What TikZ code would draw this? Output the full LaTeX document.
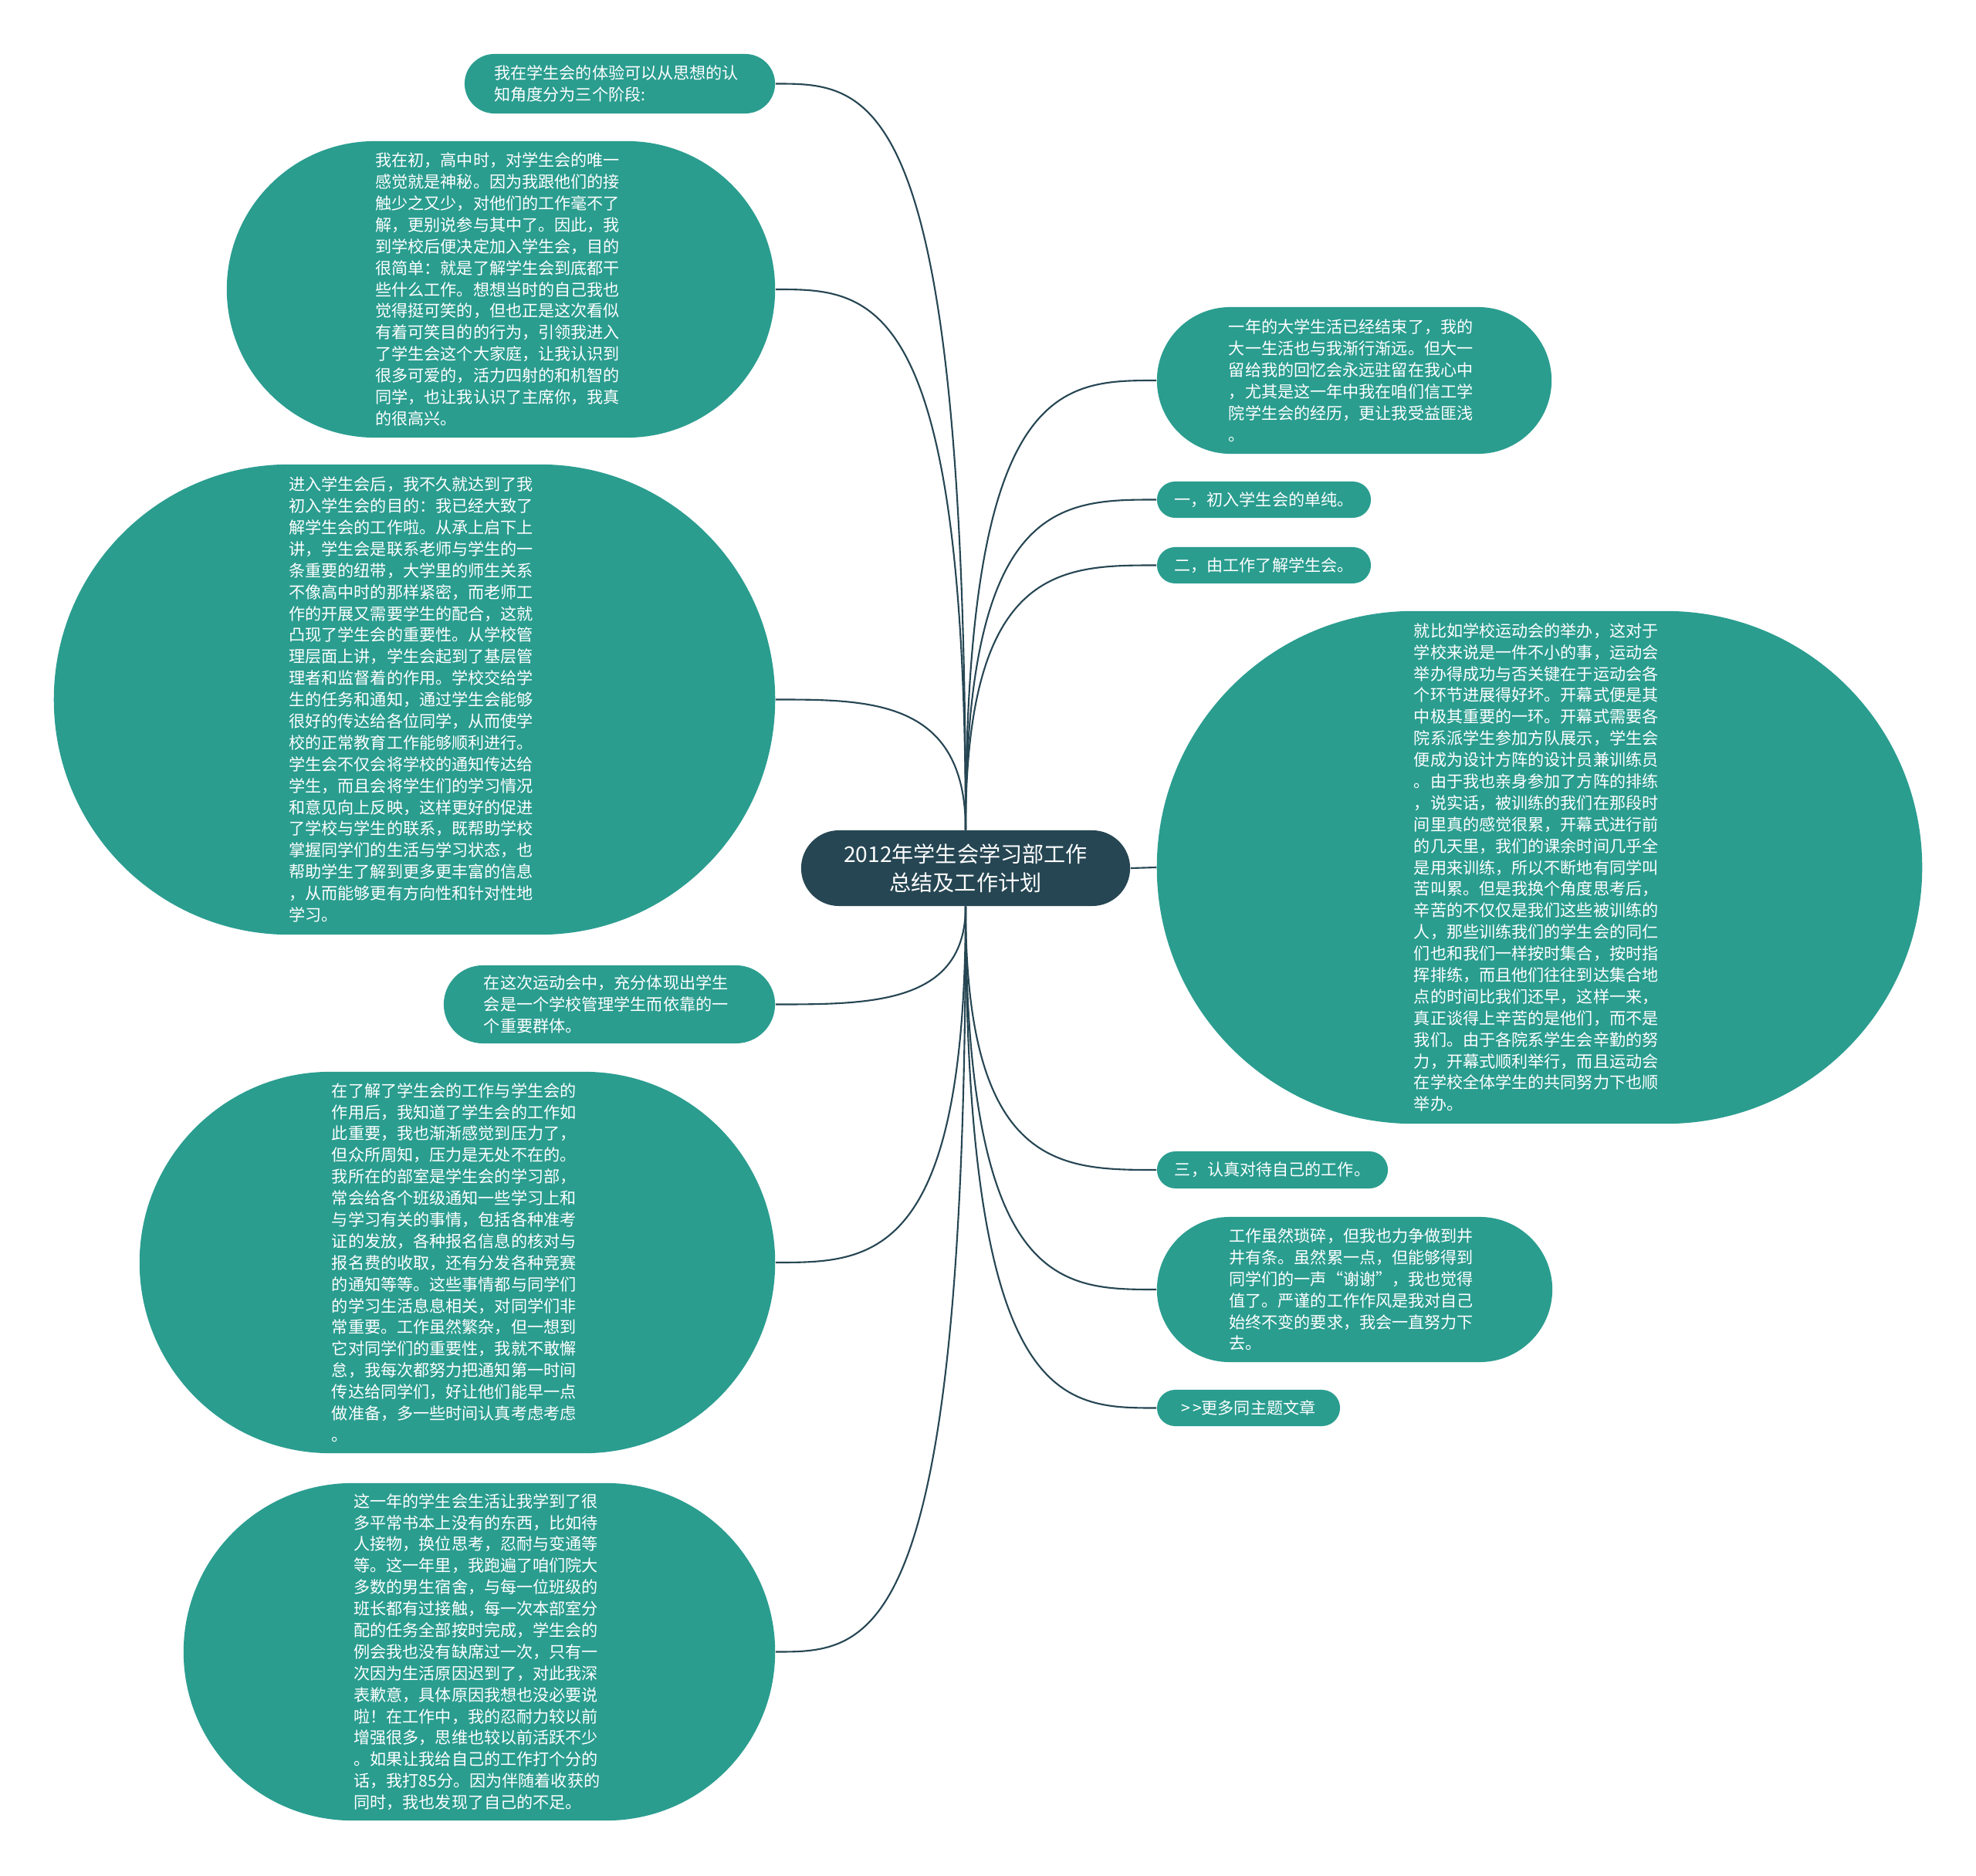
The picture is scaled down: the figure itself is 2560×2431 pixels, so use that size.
\documentclass[tikz,border=0pt]{standalone}
\usepackage{fontspec}
\setmainfont{Noto Sans CJK SC}
\usepackage{xcolor}
\usetikzlibrary{calc}
\definecolor{topicgreen}{HTML}{2A9D8F}
\definecolor{rootblue}{HTML}{264653}

\begin{document}
\begin{tikzpicture}[x=0.01cm,y=-0.01cm,
    leaf/.style={fill=topicgreen, text=white, inner sep=0pt, font=\fontsize{6pt}{7.93pt}\selectfont},
    para/.style={leaf, text width=3.25cm, align=left},
    pill/.style n args={3}{minimum width=#1, minimum height=#2, rounded corners=#3},
    link/.style={rootblue, line width=0.6pt}]
    % page frame
    \fill[white] (0,0) rectangle (2560,2431);
    \useasboundingbox (0,0) rectangle (2560,2431);
    % root in the middle
    \node[fill=rootblue, text=white, inner sep=0pt, align=center,
          font=\fontsize{8pt}{10.66pt}\selectfont,
          pill={4.26cm}{0.98cm}{0.49cm}] (root) at (1251,1125)
          {2012年学生会学习部工作\\总结及工作计划};
    % left side branches
    \node[para, pill={4.02cm}{0.77cm}{0.385cm}] (a) at (803,108.5)
    {我在学生会的体验可以从思想的认\\
     知角度分为三个阶段:};
    \node[para, pill={7.10cm}{3.84cm}{1.92cm}] (b) at (649,375)
    {我在初，高中时，对学生会的唯一\\
     感觉就是神秘。因为我跟他们的接\\
     触少之又少，对他们的工作毫不了\\
     解，更别说参与其中了。因此，我\\
     到学校后便决定加入学生会，目的\\
     很简单：就是了解学生会到底都干\\
     些什么工作。想想当时的自己我也\\
     觉得挺可笑的，但也正是这次看似\\
     有着可笑目的的行为，引领我进入\\
     了学生会这个大家庭，让我认识到\\
     很多可爱的，活力四射的和机智的\\
     同学，也让我认识了主席你，我真\\
     的很高兴。};
    \node[para, pill={9.34cm}{6.09cm}{3.045cm}] (c) at (537,906.5)
    {进入学生会后，我不久就达到了我\\
     初入学生会的目的：我已经大致了\\
     解学生会的工作啦。从承上启下上\\
     讲，学生会是联系老师与学生的一\\
     条重要的纽带，大学里的师生关系\\
     不像高中时的那样紧密，而老师工\\
     作的开展又需要学生的配合，这就\\
     凸现了学生会的重要性。从学校管\\
     理层面上讲，学生会起到了基层管\\
     理者和监督着的作用。学校交给学\\
     生的任务和通知，通过学生会能够\\
     很好的传达给各位同学，从而使学\\
     校的正常教育工作能够顺利进行。\\
     学生会不仅会将学校的通知传达给\\
     学生，而且会将学生们的学习情况\\
     和意见向上反映，这样更好的促进\\
     了学校与学生的联系，既帮助学校\\
     掌握同学们的生活与学习状态，也\\
     帮助学生了解到更多更丰富的信息\\
     ，从而能够更有方向性和针对性地\\
     学习。};
    \node[para, pill={4.29cm}{1.01cm}{0.505cm}] (d) at (789.5,1301.5)
    {在这次运动会中，充分体现出学生\\
     会是一个学校管理学生而依靠的一\\
     个重要群体。};
    \node[para, pill={8.23cm}{4.94cm}{2.47cm}] (e) at (592.5,1636)
    {在了解了学生会的工作与学生会的\\
     作用后，我知道了学生会的工作如\\
     此重要，我也渐渐感觉到压力了，\\
     但众所周知，压力是无处不在的。\\
     我所在的部室是学生会的学习部，\\
     常会给各个班级通知一些学习上和\\
     与学习有关的事情，包括各种准考\\
     证的发放，各种报名信息的核对与\\
     报名费的收取，还有分发各种竞赛\\
     的通知等等。这些事情都与同学们\\
     的学习生活息息相关，对同学们非\\
     常重要。工作虽然繁杂，但一想到\\
     它对同学们的重要性，我就不敢懈\\
     怠，我每次都努力把通知第一时间\\
     传达给同学们，好让他们能早一点\\
     做准备，多一些时间认真考虑考虑\\
     。};
    \node[para, pill={7.66cm}{4.37cm}{2.185cm}] (f) at (621,2140.5)
    {这一年的学生会生活让我学到了很\\
     多平常书本上没有的东西，比如待\\
     人接物，换位思考，忍耐与变通等\\
     等。这一年里，我跑遍了咱们院大\\
     多数的男生宿舍，与每一位班级的\\
     班长都有过接触，每一次本部室分\\
     配的任务全部按时完成，学生会的\\
     例会我也没有缺席过一次，只有一\\
     次因为生活原因迟到了，对此我深\\
     表歉意，具体原因我想也没必要说\\
     啦！在工作中，我的忍耐力较以前\\
     增强很多，思维也较以前活跃不少\\
     。如果让我给自己的工作打个分的\\
     话，我打85分。因为伴随着收获的\\
     同时，我也发现了自己的不足。};
    % right side branches
    \node[para, pill={5.11cm}{1.90cm}{0.95cm}] (g) at (1754.5,493)
    {一年的大学生活已经结束了，我的\\
     大一生活也与我渐行渐远。但大一\\
     留给我的回忆会永远驻留在我心中\\
     ，尤其是这一年中我在咱们信工学\\
     院学生会的经历，更让我受益匪浅\\
     。};
    \node[leaf, pill={2.77cm}{0.47cm}{0.235cm}] (h) at (1637.5,647.5) {一，初入学生会的单纯。};
    \node[leaf, pill={2.77cm}{0.47cm}{0.235cm}] (i) at (1637.5,732.5) {二，由工作了解学生会。};
    \node[para, pill={9.91cm}{6.64cm}{3.32cm}] (j) at (1994.5,1124)
    {就比如学校运动会的举办，这对于\\
     学校来说是一件不小的事，运动会\\
     举办得成功与否关键在于运动会各\\
     个环节进展得好坏。开幕式便是其\\
     中极其重要的一环。开幕式需要各\\
     院系派学生参加方队展示，学生会\\
     便成为设计方阵的设计员兼训练员\\
     。由于我也亲身参加了方阵的排练\\
     ，说实话，被训练的我们在那段时\\
     间里真的感觉很累，开幕式进行前\\
     的几天里，我们的课余时间几乎全\\
     是用来训练，所以不断地有同学叫\\
     苦叫累。但是我换个角度思考后，\\
     辛苦的不仅仅是我们这些被训练的\\
     人，那些训练我们的学生会的同仁\\
     们也和我们一样按时集合，按时指\\
     挥排练，而且他们往往到达集合地\\
     点的时间比我们还早，这样一来，\\
     真正谈得上辛苦的是他们，而不是\\
     我们。由于各院系学生会辛勤的努\\
     力，开幕式顺利举行，而且运动会\\
     在学校全体学生的共同努力下也顺\\
     举办。};
    \node[leaf, pill={2.99cm}{0.48cm}{0.24cm}] (k) at (1648.5,1516) {三，认真对待自己的工作。};
    \node[para, pill={5.12cm}{1.88cm}{0.94cm}] (l) at (1755,1671)
    {工作虽然琐碎，但我也力争做到井\\
     井有条。虽然累一点，但能够得到\\
     同学们的一声“谢谢”，我也觉得\\
     值了。严谨的工作作风是我对自己\\
     始终不变的要求，我会一直努力下\\
     去。};
    \node[leaf, pill={2.37cm}{0.47cm}{0.235cm}] (m) at (1617.5,1824.5) {>\kern0.8pt>更多同主题文章};
    % curves from the top of the root
    \foreach \n in {a,b,c}
        \draw[link] (root.north) .. controls (root.north |- \n.east) and ($(root.north |- \n.east)!0.5!(\n.east)$) .. (\n.east);
    \foreach \n in {g,h,i}
        \draw[link] (root.north) .. controls (root.north |- \n.west) and ($(root.north |- \n.west)!0.5!(\n.west)$) .. (\n.west);
    % curves from the bottom of the root
    \foreach \n in {d,e,f}
        \draw[link] (root.south) .. controls (root.south |- \n.east) and ($(root.south |- \n.east)!0.5!(\n.east)$) .. (\n.east);
    \foreach \n in {k,l,m}
        \draw[link] (root.south) .. controls (root.south |- \n.west) and ($(root.south |- \n.west)!0.5!(\n.west)$) .. (\n.west);
    % straight link to the big right node
    \draw[link] (root.east) -- (j.west);
\end{tikzpicture}
\end{document}
